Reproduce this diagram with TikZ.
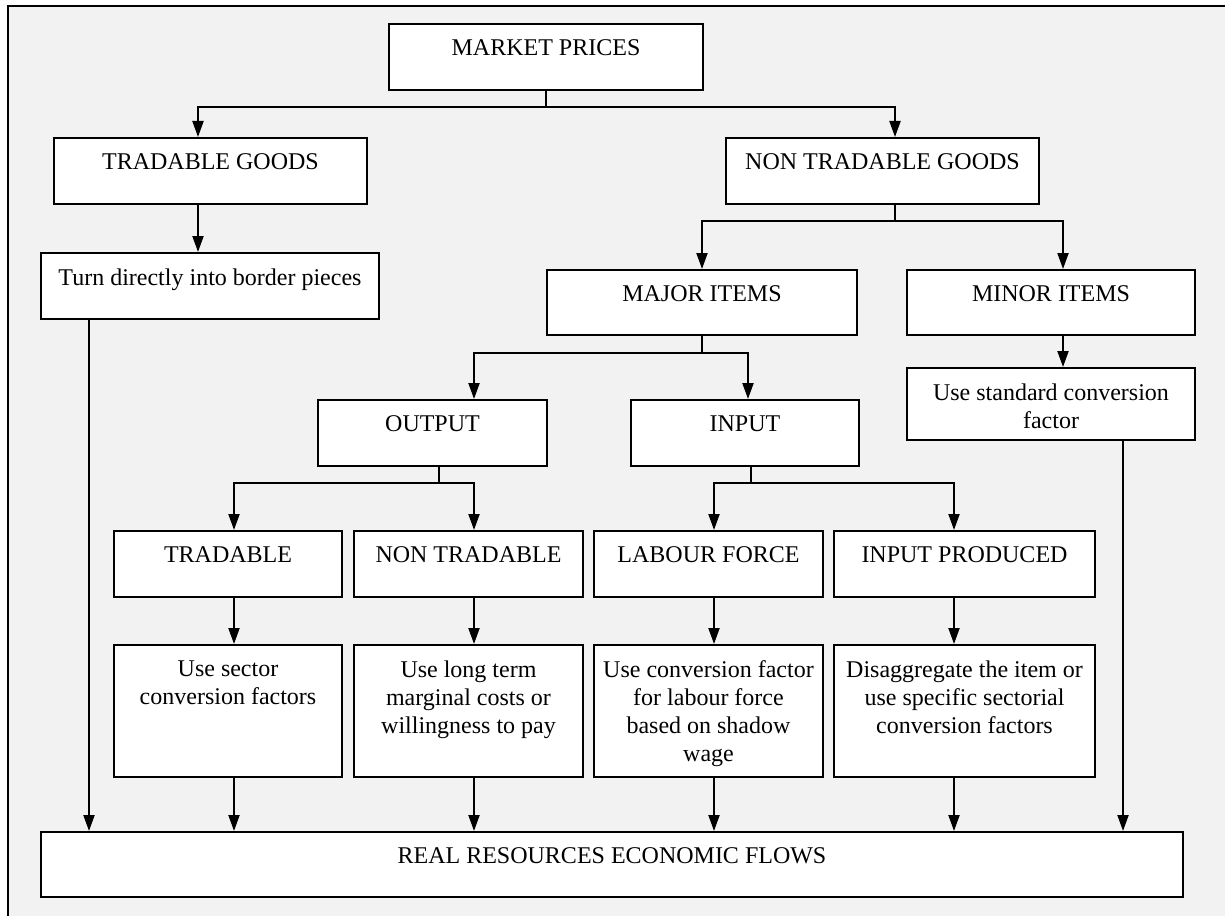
\documentclass[tikz,border=0pt]{standalone}
\usepackage{fontspec}
\setmainfont{Liberation Serif}
\usetikzlibrary{arrows.meta}
\definecolor{cpanel}{HTML}{F2F2F2}
\tikzset{
  every picture/.style={x=1pt, y=-1pt, line width=2pt},
  box/.style={draw, fill=white, anchor=north west, inner sep=0pt, minimum height=66pt},
  txt/.style={anchor=north, yshift=-16pt, align=center, inner sep=0pt, font=\fontsize{24}{28}\selectfont},
  arrow/.style={-{Triangle[length=16pt, width=11pt]}},
}

\begin{document}
\begin{tikzpicture}
  \useasboundingbox (0,0) rectangle (1225,915);
  \clip (0,0) rectangle (1225,915);
  \draw[fill=cpanel, line width=2.2pt] (8,6) rectangle (1240,930);

  % top levels
  \node[box, minimum width=314pt, label={[txt]north:MARKET PRICES}] (mp) at (388,23) {};
  \node[box, minimum width=313pt, label={[txt]north:TRADABLE GOODS}] (tg) at (53,137) {};
  \node[box, minimum width=313pt, label={[txt]north:NON TRADABLE GOODS}] (ntg) at (725,137) {};
  \node[box, minimum width=338pt, label={[txt]north:Turn directly into border pieces}] (td) at (40,252) {};
  \node[box, minimum width=310pt, minimum height=65pt, label={[txt]north:MAJOR ITEMS}] (major) at (546,269) {};
  \node[box, minimum width=288pt, minimum height=65pt, label={[txt]north:MINOR ITEMS}] (minor) at (906,269) {};
  \node[box, minimum width=288pt, minimum height=72pt, label={[txt]north:Use standard conversion\\factor}] (std) at (906,367) {};
  \node[box, minimum width=229pt, label={[txt]north:OUTPUT}] (out) at (317,399) {};
  \node[box, minimum width=228pt, label={[txt]north:INPUT}] (in) at (630,399) {};

  % headers and descriptions
  \node[box, minimum width=228pt, label={[txt]north:TRADABLE}] (tr) at (113,530) {};
  \node[box, minimum width=229pt, label={[txt]north:NON TRADABLE}] (ntr) at (353,530) {};
  \node[box, minimum width=229pt, label={[txt]north:LABOUR FORCE}] (lab) at (593,530) {};
  \node[box, minimum width=261pt, label={[txt]north:INPUT PRODUCED}] (ip) at (833,530) {};
  \node[box, minimum width=228pt, minimum height=132pt, label={[txt]north:Use sector\\conversion factors}] (dtr) at (113,644) {};
  \node[box, minimum width=229pt, minimum height=132pt, label={[txt]north:Use long term\\marginal costs or\\willingness to pay}] (dntr) at (353,644) {};
  \node[box, minimum width=229pt, minimum height=132pt, label={[txt]north:Use conversion factor\\for labour force\\based on shadow\\wage}] (dlab) at (593,644) {};
  \node[box, minimum width=261pt, minimum height=132pt, label={[txt]north:Disaggregate the item or\\use specific sectorial\\conversion factors}] (dip) at (833,644) {};

  \node[box, minimum width=1142pt, minimum height=65pt, label={[txt]north:REAL RESOURCES ECONOMIC FLOWS}] (real) at (40,831) {};

  % connectors
  \draw[arrow] (mp.south) -- ++(0,16) -| ([xshift=-12.5pt]tg.north);
  \draw[arrow] (mp.south) -- ++(0,16) -| ([xshift=12.5pt]ntg.north);
  \draw[arrow] ([xshift=-12.5pt]tg.south) -- ([xshift=-12.5pt]tg.south |- td.north);
  \draw[arrow] ([xshift=-121pt]td.south) -- ([xshift=-121pt]td.south |- real.north);

  \draw[arrow] ([xshift=12.5pt]ntg.south) -- ++(0,16) -| (major.north);
  \draw[arrow] ([xshift=12.5pt]ntg.south) -- ++(0,16) -| ([xshift=12pt]minor.north);
  \draw[arrow] ([xshift=12pt]minor.south) -- ([xshift=12pt]minor.south |- std.north);
  \draw[arrow] ([xshift=72pt]std.south) -- ([xshift=72pt]std.south |- real.north);

  \draw[arrow] (major.south) -- ++(0,17) -| ([xshift=41.5pt]out.north);
  \draw[arrow] (major.south) -- ++(0,17) -| ([xshift=3pt]in.north);

  \draw[arrow] ([xshift=6.5pt]out.south) -- ++(0,16) -| ([xshift=6pt]tr.north);
  \draw[arrow] ([xshift=6.5pt]out.south) -- ++(0,16) -| ([xshift=5.5pt]ntr.north);
  \draw[arrow] ([xshift=6pt]in.south) -- ++(0,16) -| ([xshift=5.5pt]lab.north);
  \draw[arrow] ([xshift=6pt]in.south) -- ++(0,16) -| ([xshift=-10.5pt]ip.north);

  \foreach \h/\d/\s in {tr/dtr/6, ntr/dntr/5.5, lab/dlab/5.5, ip/dip/-10.5} {
    \draw[arrow] ([xshift=\s pt]\h.south) -- ([xshift=\s pt]\h.south |- \d.north);
    \draw[arrow] ([xshift=\s pt]\d.south) -- ([xshift=\s pt]\d.south |- real.north);
  }
\end{tikzpicture}
\end{document}
